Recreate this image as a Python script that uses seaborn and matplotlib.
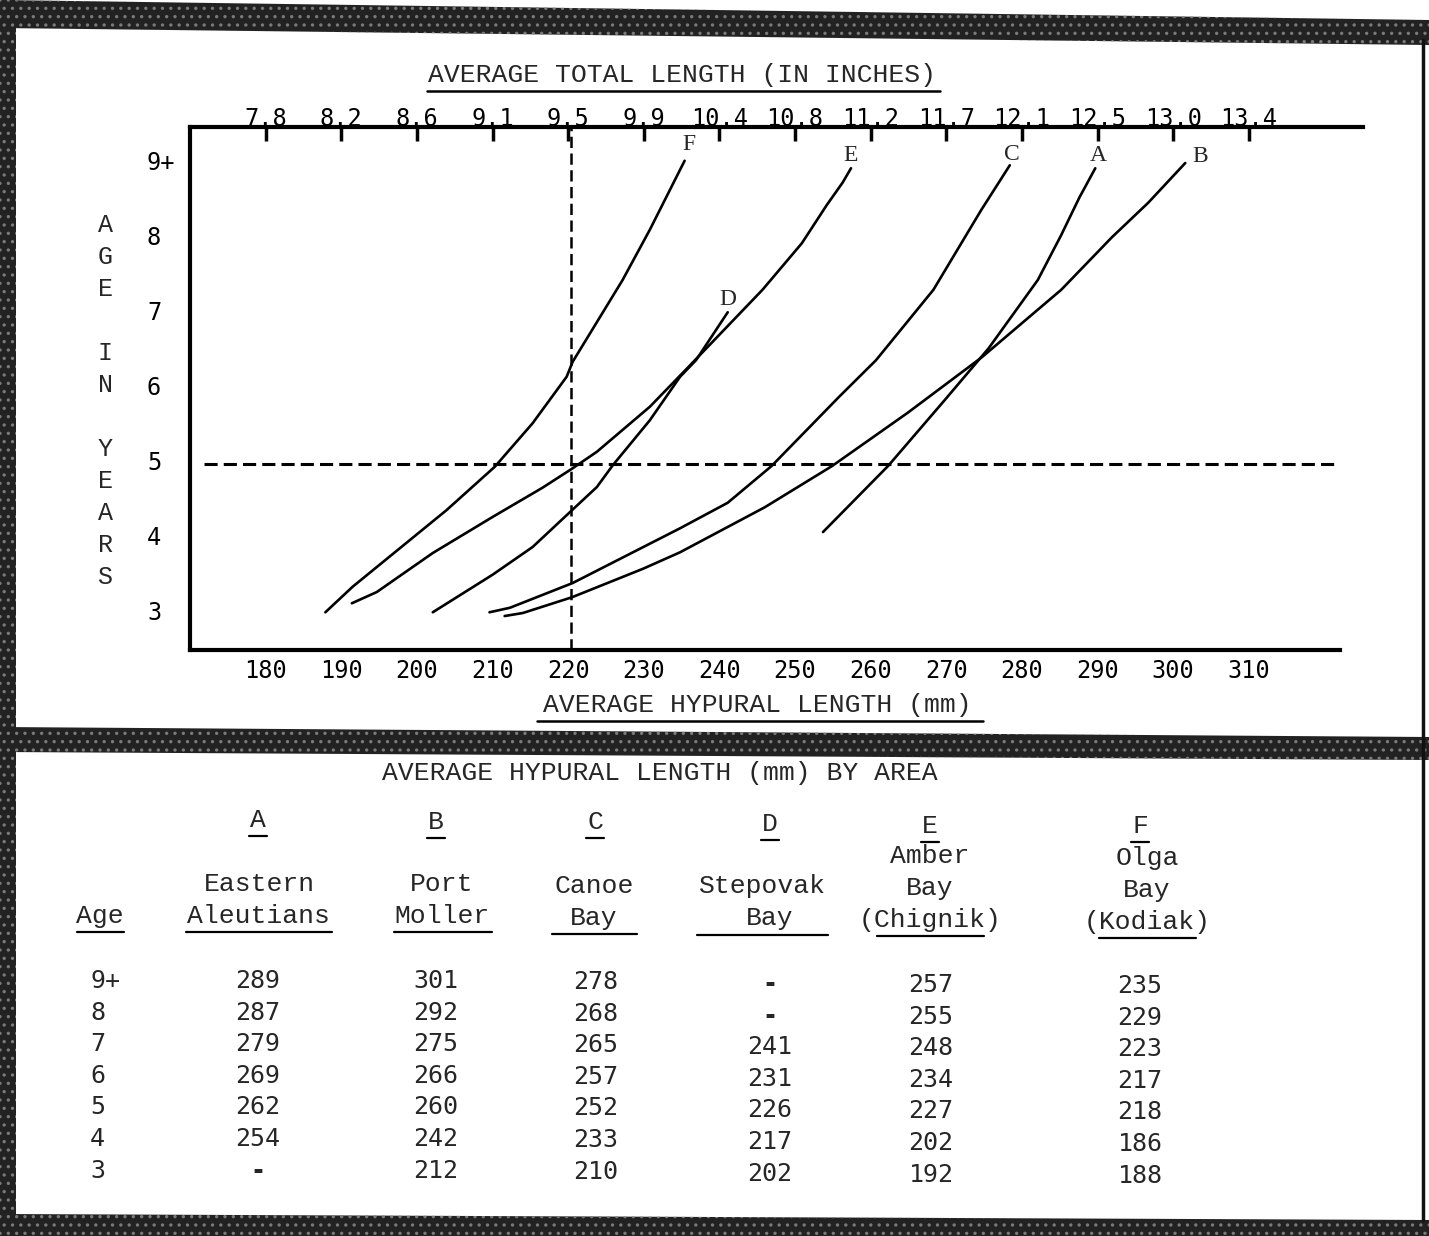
import pandas as pd
import seaborn as sns
import matplotlib.pyplot as plt
from matplotlib.lines import Line2D
from matplotlib.patches import Polygon

# ---- table: average hypural length (mm) by area ----
ages = ["9+", "8", "7", "6", "5", "4", "3"]
letters = ["A", "B", "C", "D", "E", "F"]
names = [["Eastern", "Aleutians"],
         ["Port", "Moller"],
         ["Canoe", "Bay"],
         ["Stepovak", "Bay"],
         ["Amber", "Bay", "(Chignik)"],
         ["Olga", "Bay", "(Kodiak)"]]
len_A = [289, 287, 279, 269, 262, 254, None]
len_B = [301, 292, 275, 266, 260, 242, 212]
len_C = [278, 268, 265, 257, 252, 233, 210]
len_D = [None, None, 241, 231, 226, 217, 202]
len_E = [257, 255, 248, 234, 227, 202, 192]
len_F = [235, 229, 223, 217, 218, 186, 188]

# ---- curves as drawn (hand smoothed) ----
A_mm = [253.7, 262.3, 269.8, 275.6, 282.1, 285.2, 287.6, 289.7]
A_age = [4.04, 4.92, 5.80, 6.49, 7.40, 8.00, 8.50, 8.89]
B_mm = [211.6, 214.0, 220.5, 229.9, 234.8, 246.0, 254.9, 264.9, 274.7, 285.2, 291.9, 296.7, 301.6]
B_age = [2.92, 2.96, 3.17, 3.55, 3.77, 4.37, 4.92, 5.63, 6.37, 7.27, 7.97, 8.43, 8.96]
C_mm = [209.6, 212.3, 220.6, 234.8, 241.1, 246.9, 255.8, 260.7, 268.3, 274.6, 278.4]
C_age = [2.97, 3.03, 3.36, 4.09, 4.43, 4.92, 5.84, 6.33, 7.27, 8.33, 8.93]
D_mm = [202.1, 210.0, 215.3, 220.5, 223.8, 225.9, 230.8, 234.8, 236.9, 241.1]
D_age = [2.97, 3.47, 3.84, 4.33, 4.64, 4.93, 5.53, 6.11, 6.33, 6.97]
E_mm = [191.4, 194.7, 202.1, 210.0, 216.6, 220.6, 223.8, 230.8, 236.0, 245.7, 250.9, 254.2, 256.3, 257.4]
E_age = [3.09, 3.24, 3.76, 4.24, 4.63, 4.89, 5.11, 5.71, 6.25, 7.27, 7.89, 8.40, 8.70, 8.89]
F_mm = [187.9, 191.5, 203.9, 210.3, 215.3, 219.8, 220.6, 227.2, 230.8, 235.4]
F_age = [2.97, 3.31, 4.33, 4.91, 5.49, 6.11, 6.31, 7.40, 8.07, 8.99]

mm_ticks = list(range(180, 320, 10))
inch_labels = ["7.8", "8.2", "8.6", "9.1", "9.5", "9.9", "10.4", "10.8",
               "11.2", "11.7", "12.1", "12.5", "13.0", "13.4"]
age_ticks = [3, 4, 5, 6, 7, 8, 9]
age_labels = ["3", "4", "5", "6", "7", "8", "9+"]
ref_mm = 220.4
ref_age = 4.95

W, H = 1429, 1236


def fx(x):
    return x / W


def fy(y):
    return 1 - y / H


sns.set_style("white")
plt.rcParams["font.family"] = ["Liberation Mono", "DejaVu Sans Mono"]
plt.rcParams["hatch.linewidth"] = 1.2
NUM = ["DejaVu Sans Mono"]

fig = plt.figure(figsize=(W / 100, H / 100), dpi=100)
ax = fig.add_axes([fx(190), fy(650), (1363 - 190) / W, (650 - 127) / H])

curves = {"A": (A_mm, A_age), "B": (B_mm, B_age), "C": (C_mm, C_age),
          "D": (D_mm, D_age), "E": (E_mm, E_age), "F": (F_mm, F_age)}
df = pd.concat([pd.DataFrame({"mm": m, "age": a, "area": k})
                for k, (m, a) in curves.items()], ignore_index=True)
sns.lineplot(data=df, x="mm", y="age", units="area", estimator=None,
             sort=False, color="black", linewidth=1.9, ax=ax)

# curve letters just above the curve ends
offsets = {"A": (2, 9.5), "B": (11, 4.5), "C": (1.5, 7.5), "D": (0, 9),
           "E": (0, 9.5), "F": (3, 11.5)}
for k, (m, a) in curves.items():
    ax.annotate(k, (m[-1], a[-1]), xytext=offsets[k], textcoords="offset points",
                ha="center", va="center", fontsize=17, family="Liberation Serif")

ax.axvline(ref_mm, color="black", lw=1.8, ls=(0, (4.5, 2.2)))
ax.hlines(ref_age, 171.9, 321.7, color="black", lw=2.2, ls=(0, (4.3, 2)))

ax.set_xlim(170, 325.1)
ax.set_ylim(2.467, 9.44)
ax.set_xlabel("")
ax.set_ylabel("")

for s in ["left", "bottom", "top"]:
    ax.spines[s].set_linewidth(3)
    ax.spines[s].set_color("black")
ax.spines["right"].set_visible(False)
ax.spines["bottom"].set_bounds(170, 322)

ax.set_xticks(mm_ticks, labels=[str(t) for t in mm_ticks], fontsize=17, family=NUM)
ax.set_yticks(age_ticks, labels=age_labels, fontsize=17, family=NUM)
ax.tick_params(axis="x", direction="out", length=4.5, width=2, pad=2, colors="black")
ax.tick_params(axis="y", direction="out", length=5, width=2, pad=26, colors="black")
for lab in ax.get_yticklabels():
    lab.set_horizontalalignment("left")

sec = ax.secondary_xaxis("top")
sec.set_xticks(mm_ticks, labels=inch_labels, fontsize=17, family=NUM)
sec.tick_params(direction="in", length=10, width=2.5, pad=-3, colors="black")
sec.spines["top"].set_visible(False)

# chart titles with underlines
fig.text(fx(682), fy(75), "AVERAGE TOTAL LENGTH (IN INCHES)", ha="center",
         va="center", fontsize=19)
fig.add_artist(Line2D([fx(427), fx(940)], [fy(91), fy(91)], color="black", lw=1.8))
fig.text(fx(757), fy(705), "AVERAGE HYPURAL LENGTH (mm)", ha="center",
         va="center", fontsize=19)
fig.add_artist(Line2D([fx(537), fx(983)], [fy(721), fy(721)], color="black", lw=1.8))

for i, ch in enumerate("AGE IN YEARS"):
    if ch != " ":
        fig.text(fx(105), fy(225 + 32 * i), ch, ha="center", va="center",
                 fontsize=18)

# ---- table ----
fig.text(fx(660), fy(773), "AVERAGE HYPURAL LENGTH (mm) BY AREA", ha="center",
         va="center", fontsize=19)

letter_x = [258, 436, 595, 770, 930, 1140]
letter_y = [820, 822, 822, 824, 826, 826]
name_x = [[259, 258], [442, 442], [594, 594], [762, 770], [930, 930, 930],
          [1147, 1147, 1147]]
name_bottom = [916, 916, 918, 918, 920, 922]
underlines = [(186, 332, 932), (394, 492, 932), (552, 637, 934),
              (697, 828, 935), (877, 984, 936), (1099, 1196, 938)]

for j, L in enumerate(letters):
    fig.text(fx(letter_x[j]), fy(letter_y[j]), L, ha="center", va="center", fontsize=19)
    fig.add_artist(Line2D([fx(letter_x[j] - 9), fx(letter_x[j] + 9)],
                          [fy(letter_y[j] + 16)] * 2, color="black", lw=1.6))
    lines = names[j]
    for k, word in enumerate(lines):
        yy = name_bottom[j] - 32 * (len(lines) - 1 - k)
        fig.text(fx(name_x[j][k]), fy(yy), word, ha="center", va="center", fontsize=19)
    x0, x1, yu = underlines[j]
    fig.add_artist(Line2D([fx(x0), fx(x1)], [fy(yu)] * 2, color="black", lw=1.6))

fig.text(fx(100), fy(916), "Age", ha="center", va="center", fontsize=19)
fig.add_artist(Line2D([fx(77), fx(124)], [fy(932)] * 2, color="black", lw=1.6))

cols = [len_A, len_B, len_C, len_D, len_E, len_F]
val_x = [258, 436, 596, 770, 931, 1140]
col_shift = [0, 0, 1, 3, 4, 5]
for i, a in enumerate(ages):
    fig.text(fx(90), fy(981 + 31.6 * i), a, ha="left", va="center",
             fontsize=18, family=NUM)
    for j, col in enumerate(cols):
        v = col[i]
        txt = "-" if v is None else str(v)
        fig.text(fx(val_x[j]), fy(981 + col_shift[j] + 31.6 * i), txt,
                 ha="center", va="center", fontsize=18, family=NUM,
                 fontweight="bold" if v is None else "normal")

# ---- scanned page borders ----
border = dict(facecolor="#222222", edgecolor="#7a7a7a", hatch="..", lw=0)
strips = [
    [(0, 0), (1429, 20), (1429, 45), (0, 28)],
    [(0, 727), (1429, 737), (1429, 760), (0, 752)],
    [(0, 1214), (1429, 1220), (1429, 1236), (0, 1236)],
    [(0, 0), (16, 0), (16, 1236), (0, 1236)],
]
for pts in strips:
    fig.add_artist(Polygon([(fx(x), fy(y)) for x, y in pts], closed=True,
                           transform=fig.transFigure, **border))
fig.add_artist(Line2D([fx(1423), fx(1423)], [fy(40), fy(1220)], color="#111111", lw=2.5))

fig.savefig("out.png", dpi=100)
